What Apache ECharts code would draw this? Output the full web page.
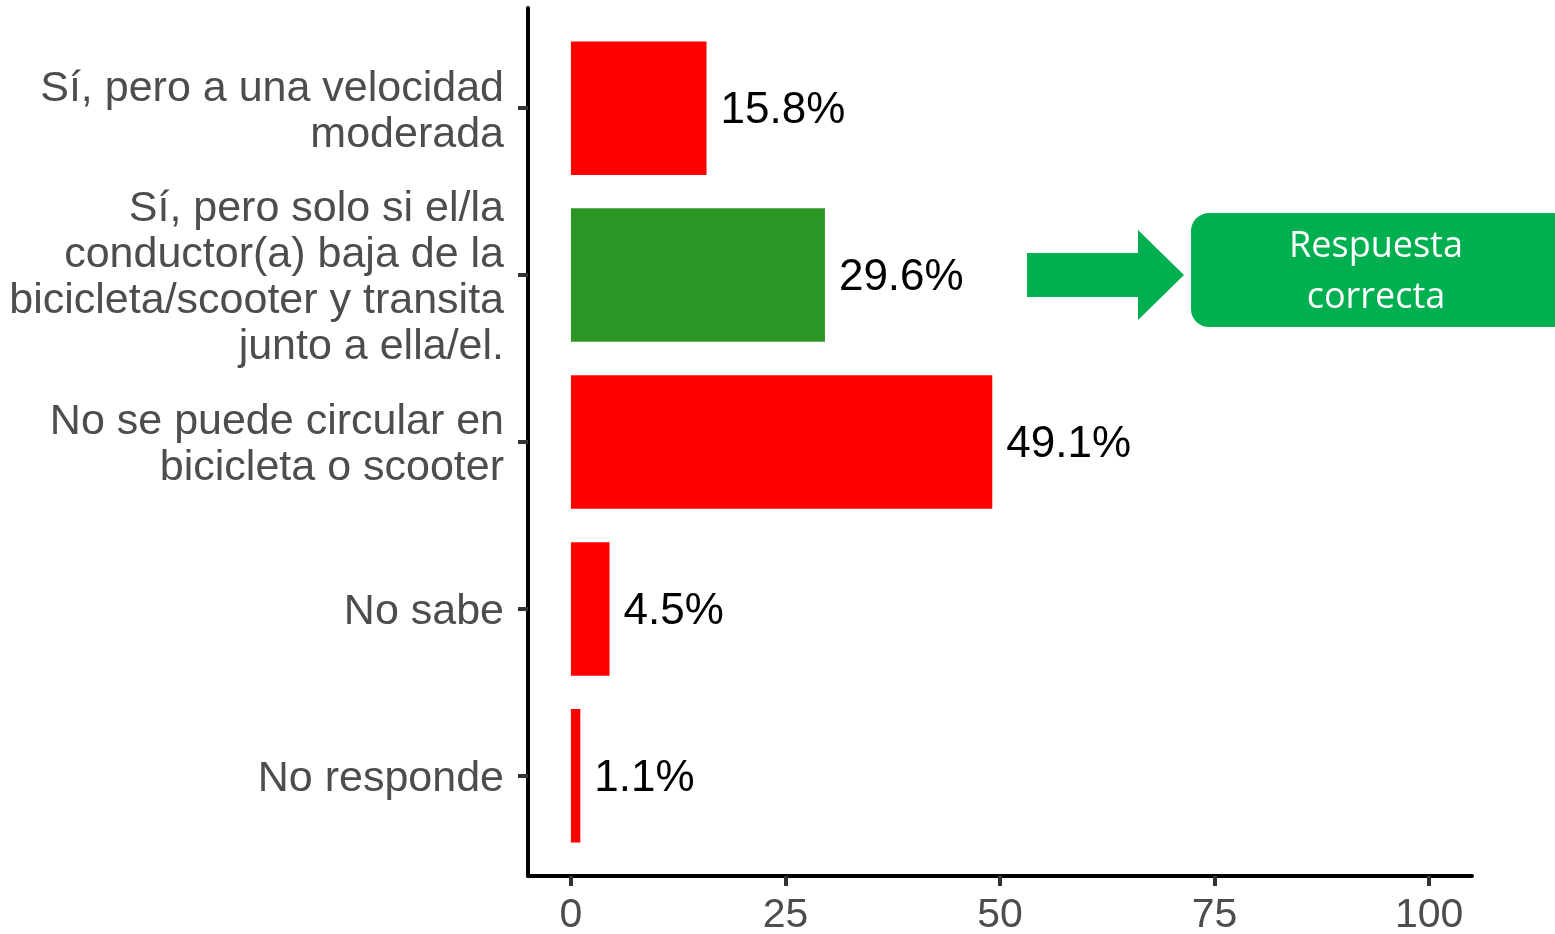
<!DOCTYPE html>
<html>
<head>
<meta charset="utf-8">
<script src="https://cdn.jsdelivr.net/npm/echarts@6/dist/echarts.min.js"></script>
<style>
  html, body { margin: 0; padding: 0; background: #ffffff; }
  #chart { width: 1555px; height: 934px; }
</style>
</head>
<body>
<div id="chart"></div>
<script>
// Respuestas (orden de arriba hacia abajo)
const categories = [
  'Sí, pero a una velocidad\nmoderada',
  'Sí, pero solo si el/la\nconductor(a) baja de la\nbicicleta/scooter y transita\njunto a ella/el.',
  'No se puede circular en\nbicicleta o scooter',
  'No sabe',
  'No responde'
];
const percentages = [15.8, 29.6, 49.1, 4.5, 1.1];
const isCorrect = [false, true, false, false, false];
const xTicks = [0, 25, 50, 75, 100];
const calloutText = 'Respuesta\ncorrecta';

const RED = '#FF0000';
const GREEN = '#2C9624';
const CALLOUT = '#00B050';

const chart = echarts.init(document.getElementById('chart'), null, { renderer: 'canvas' });

const seriesData = percentages.map((v, i) => [v, i + 1, isCorrect[i] ? 1 : 0]);

function renderBar(params, api) {
  const v = api.value(0);
  const pos = api.value(1);
  const start = api.coord([0, pos]);
  const end = api.coord([v, pos]);
  const h = api.size([0, 0.8])[1];
  const fill = api.value(2) === 1 ? GREEN : RED;
  return {
    type: 'group',
    children: [
      {
        type: 'rect',
        shape: { x: start[0], y: start[1] - h / 2, width: end[0] - start[0], height: h },
        style: { fill: fill }
      },
      {
        type: 'text',
        x: end[0] + 14,
        y: end[1] + 3,
        style: {
          text: v.toFixed(1) + '%',
          fill: '#000000',
          font: '44px "Liberation Sans", Arial, sans-serif',
          align: 'left',
          verticalAlign: 'middle'
        }
      }
    ]
  };
}

// Each category label gets a thin spacer line on top so the text block sits slightly lower
function formatCategory(val) {
  const name = categories[Math.round(val) - 1];
  if (!name) return '';
  return '{sp| }\n' + name.split('\n').map((line) => '{t|' + line + '}').join('\n');
}

const option = {
  animation: false,
  backgroundColor: '#ffffff',
  grid: { left: 528, right: 83, top: 8, bottom: 58, containLabel: false, outerBoundsMode: 'none' },
  xAxis: {
    type: 'value',
    min: -5,
    max: 105,
    axisLine: { show: true, onZero: false, lineStyle: { color: '#000000', width: 4 } },
    axisTick: { show: true, customValues: xTicks, length: 10, lineStyle: { color: '#333333', width: 4 } },
    axisLabel: {
      customValues: xTicks,
      margin: 19,
      color: '#4D4D4D',
      fontSize: 41,
      fontFamily: '"Liberation Sans", Arial, sans-serif'
    },
    splitLine: { show: false }
  },
  yAxis: {
    type: 'value',
    inverse: true,
    min: 0.4,
    max: 5.6,
    axisLine: { show: true, onZero: false, lineStyle: { color: '#000000', width: 4 } },
    axisTick: { show: true, customValues: [1, 2, 3, 4, 5], length: 10, lineStyle: { color: '#333333', width: 4 } },
    axisLabel: {
      customValues: [1, 2, 3, 4, 5],
      margin: 24,
      color: '#4D4D4D',
      fontSize: 43,
      align: 'right',
      fontFamily: '"Liberation Sans", Arial, sans-serif',
      formatter: formatCategory,
      rich: {
        sp: { fontSize: 4, lineHeight: 7 },
        t: {
          fontSize: 43,
          lineHeight: 46,
          color: '#4D4D4D',
          fontFamily: '"Liberation Sans", Arial, sans-serif'
        }
      }
    },
    splitLine: { show: false }
  },
  series: [
    {
      type: 'custom',
      renderItem: renderBar,
      encode: { x: 0, y: 1 },
      data: seriesData,
      clip: false
    }
  ]
};

chart.setOption(option);

// Flecha y recuadro que señalan la respuesta correcta
const correctIdx = isCorrect.indexOf(true);
const cy = chart.convertToPixel({ gridIndex: 0 }, [0, correctIdx + 1])[1];
chart.setOption({
  graphic: [
    {
      type: 'polygon',
      shape: {
        points: [
          [1027, cy - 22], [1138, cy - 22], [1138, cy - 45], [1184, cy],
          [1138, cy + 45], [1138, cy + 22], [1027, cy + 22]
        ]
      },
      style: { fill: CALLOUT }
    },
    {
      type: 'rect',
      shape: { x: 1191, y: cy - 62, width: 400, height: 114, r: 18 },
      style: { fill: CALLOUT }
    },
    {
      type: 'text',
      x: 1376,
      y: cy - 3,
      style: {
        text: calloutText,
        fill: '#ffffff',
        font: '36px "Open Sans", sans-serif',
        lineHeight: 51,
        align: 'center',
        verticalAlign: 'middle'
      }
    }
  ]
});
</script>
</body>
</html>
